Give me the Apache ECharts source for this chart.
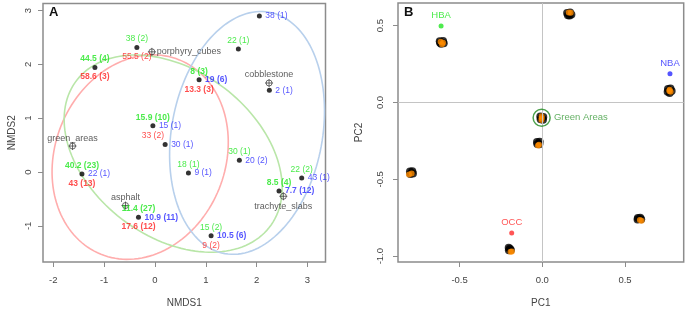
<!DOCTYPE html>
<html>
<head>
<meta charset="utf-8">
<script src="https://cdn.jsdelivr.net/npm/echarts@6.0.0/dist/echarts.min.js"></script>
<style>
  html, body { margin: 0; padding: 0; background: #fff; }
  #main { width: 685px; height: 313px; }
</style>
</head>
<body>
<div id="main"></div>
<script>
// ---- panel A : NMDS ----
// sampling points (black dots) and the three numbers printed round each one
const nmds1 = [-0.356, -1.181, -0.041, 0.200, 2.053, 1.640, 0.868, 2.250, -1.436, -0.324, 1.660, 0.658, 2.886, 2.440, 1.104];
const nmds2 = [2.312, 1.939, 0.859, 0.511, 2.897, 2.286, 1.714, 1.518, -0.038, -0.843, 0.219, -0.019, -0.111, -0.354, -1.184];
const greenLabels = ['38 (2)', '44.5 (4)', '15.9 (10)', '', '', '22 (1)', '8 (3)', '', '40.2 (23)', '11.4 (27)', '30 (1)', '18 (1)', '22 (2)', '8.5 (4)', '15 (2)'];
const blueLabels = ['', '', '15 (1)', '30 (1)', '38 (1)', '', '19 (6)', '2 (1)', '22 (1)', '10.9 (11)', '20 (2)', '9 (1)', '43 (1)', '7.7 (12)', '10.5 (6)'];
const redLabels = ['55.5 (2)', '58.6 (3)', '33 (2)', '', '', '', '13.3 (3)', '', '43 (13)', '17.6 (12)', '', '', '', '', '9 (2)'];

// surface centroids (crossed circles)
const surfaces = ['porphyry_cubes', 'green_areas', 'cobblestone', 'asphalt', 'trachyte_slabs'];
const surfaceX = [-0.061, -1.621, 2.244, -0.580, 2.525];
const surfaceY = [2.232, 0.482, 1.653, -0.623, -0.451];

// ellipses: centre and two conjugate half axes, in NMDS units (red, green, blue)
const ellipseCentre = [[-0.291, 0.277], [0.358, 0.341], [1.811, 0.726]];
const ellipseAxisA = [[1.729, 0.146], [1.888, -1.374], [1.513, 0.146]];
const ellipseAxisB = [[-0.118, -1.894], [-1.016, -1.211], [-0.177, -2.251]];

const nmdsXTicks = [-2, -1, 0, 1, 2, 3];
const nmdsYTicks = [-1, 0, 1, 2, 3];

// ---- panel B : PCA ----
const pcBlack = [
  [-0.620, 0.398], [-0.600, 0.400], [-0.612, 0.382], [-0.596, 0.385], [-0.618, 0.388],
  [0.150, 0.582], [0.168, 0.585], [0.176, 0.572], [0.155, 0.568], [0.165, 0.565],
  [0.760, 0.088], [0.775, 0.090], [0.782, 0.075], [0.758, 0.070], [0.770, 0.062],
  [-0.012, -0.092], [0.006, -0.094], [-0.010, -0.110], [0.004, -0.112], [-0.004, -0.100],
  [-0.032, -0.258], [-0.016, -0.256], [-0.030, -0.270], [-0.018, -0.272],
  [-0.800, -0.450], [-0.786, -0.448], [-0.782, -0.462], [-0.798, -0.466],
  [-0.203, -0.945], [-0.196, -0.952], [-0.202, -0.962], [-0.190, -0.960],
  [0.578, -0.752], [0.592, -0.750], [0.598, -0.760], [0.576, -0.762]
];
const pcOrange = [
  [-0.615, 0.395], [-0.600, 0.388], [-0.606, 0.378],
  [0.160, 0.586], [0.172, 0.584],
  [0.768, 0.075], [0.776, 0.070], [0.770, 0.082],
  [-0.004, -0.090], [-0.004, -0.102], [-0.005, -0.114],
  [-0.026, -0.280], [-0.020, -0.276],
  [-0.806, -0.468], [-0.790, -0.462],
  [-0.184, -0.970], [-0.192, -0.972],
  [0.600, -0.770], [0.590, -0.764]
];
const refNames = ['HBA', 'NBA', 'OCC'];
const refPC1 = [-0.612, 0.772, -0.185];
const refPC2 = [0.498, 0.187, -0.850];
const greenAreasPC = [-0.004, -0.100];

const pcXTicks = [-0.5, 0, 0.5];
const pcYTicks = [-1, -0.5, 0, 0.5];

// ---- styles ----
const FONT = '"Liberation Sans", Arial, Helvetica, sans-serif';
const BOX = '#8c8c8c';
const ellipseColors = ['#ffadad', '#b9e6a8', '#b8d0ec'];
const refColors = ['#22e622', '#2a2aff', '#ff2a2a'];
const surfaceLabelPos = [
  { align: 'left', offset: [5, 0] },
  { align: 'center', offset: [0, -8] },
  { align: 'center', offset: [0, -8.5] },
  { align: 'center', offset: [0, -8.5] },
  { align: 'center', offset: [0, 10.5] }
];
const crossCircle = 'path://M4,0L4,8M0,4L8,4M7,4A3,3,0,1,1,1,4A3,3,0,1,1,7,4Z';

function isBold(txt) {
  const m = txt.match(/\((\d+)\)/);
  return m && +m[1] >= 3;
}

function labelItems(texts) {
  const out = [];
  texts.forEach(function (t, i) {
    if (!t) return;
    out.push({ value: [nmds1[i], nmds2[i]], name: t, label: { fontWeight: isBold(t) ? 'bold' : 'normal' } });
  });
  return out;
}

function labelSeries(texts, color, align, offset) {
  return {
    type: 'scatter', xAxisIndex: 0, yAxisIndex: 0, silent: true, z: 5,
    symbolSize: 1, itemStyle: { color: 'rgba(0,0,0,0)' },
    data: labelItems(texts),
    label: {
      show: true, position: 'inside', align: align, verticalAlign: 'middle', offset: offset,
      formatter: '{b}', color: color, fontSize: 8.5, fontFamily: FONT
    }
  };
}

function valueAxis(grid, min, max, ticks, fmt, extra) {
  return Object.assign({
    gridIndex: grid, type: 'value', min: min, max: max,
    axisLine: { show: false, onZero: false },
    splitLine: { show: false },
    axisTick: { show: true, inside: false, length: 5, customValues: ticks, lineStyle: { color: BOX, width: 1 } },
    nameLocation: 'middle',
    nameTextStyle: { fontSize: 10, color: '#444', fontFamily: FONT }
  }, extra);
}

const chart = echarts.init(document.getElementById('main'));

const option = {
  animation: false,
  backgroundColor: '#fff',
  grid: [
    { left: 43, top: 3.5, width: 282.5, height: 262.5, show: true, borderColor: BOX, borderWidth: 1.5 },
    { left: 398, top: 3, width: 285.7, height: 263.7, show: true, borderColor: BOX, borderWidth: 1.5 }
  ],
  xAxis: [
    valueAxis(0, -2.202, 3.354, nmdsXTicks, null, { name: 'NMDS1', nameGap: 36, axisLabel: { customValues: nmdsXTicks, margin: 13, fontSize: 9.5, color: '#444', fontFamily: FONT } }),
    valueAxis(1, -0.8724, 0.855, pcXTicks, null, { name: 'PC1', nameGap: 36, axisLabel: { customValues: pcXTicks, formatter: v => v.toFixed(1), margin: 13, fontSize: 9.5, color: '#444', fontFamily: FONT } })
  ],
  yAxis: [
    valueAxis(0, -1.672, 3.13, nmdsYTicks, null, { name: 'NMDS2', nameGap: 26, nameRotate: 90, axisLabel: { customValues: nmdsYTicks, rotate: 90, margin: 10, fontSize: 9.5, color: '#444', fontFamily: FONT } }),
    valueAxis(1, -1.038, 0.647, pcYTicks, null, { name: 'PC2', nameGap: 34, nameRotate: 90, axisLabel: { customValues: pcYTicks, formatter: v => v.toFixed(1), rotate: 90, margin: 13, fontSize: 9.5, color: '#444', fontFamily: FONT } })
  ],
  graphic: [
    { type: 'text', left: 49, top: 6, style: { text: 'A', font: 'bold 13px ' + FONT, fill: '#111' } },
    { type: 'text', left: 404, top: 6, style: { text: 'B', font: 'bold 13px ' + FONT, fill: '#111' } }
  ],
  series: [
    // ellipses
    {
      type: 'custom', xAxisIndex: 0, yAxisIndex: 0, silent: true, z: 1,
      data: ellipseCentre.map((c, i) => [c[0], c[1], ellipseAxisA[i][0], ellipseAxisA[i][1], ellipseAxisB[i][0], ellipseAxisB[i][1], i]),
      encode: { x: 0, y: 1 },
      renderItem: function (params, api) {
        const cx = api.value(0), cy = api.value(1);
        const ax = api.value(2), ay = api.value(3), bx = api.value(4), by = api.value(5);
        const pts = [];
        for (let k = 0; k < 144; k++) {
          const t = k / 144 * Math.PI * 2;
          pts.push(api.coord([cx + ax * Math.cos(t) + bx * Math.sin(t), cy + ay * Math.cos(t) + by * Math.sin(t)]));
        }
        return { type: 'polygon', shape: { points: pts }, style: { fill: 'none', stroke: ellipseColors[api.value(6)], lineWidth: 1.6 } };
      }
    },
    // surface centroids
    {
      type: 'scatter', xAxisIndex: 0, yAxisIndex: 0, silent: true, z: 3,
      symbol: crossCircle, symbolSize: 8,
      itemStyle: { color: 'rgba(0,0,0,0)', borderColor: '#333', borderWidth: 0.9 },
      data: surfaces.map((s, i) => ({
        value: [surfaceX[i], surfaceY[i]], name: s,
        label: { align: surfaceLabelPos[i].align, offset: surfaceLabelPos[i].offset }
      })),
      label: { show: true, position: 'inside', verticalAlign: 'middle', formatter: '{b}', color: '#333', fontSize: 9, fontFamily: FONT }
    },
    // sampling points
    {
      type: 'scatter', xAxisIndex: 0, yAxisIndex: 0, silent: true, z: 4,
      symbolSize: 5, itemStyle: { color: '#000' },
      data: nmds1.map((x, i) => [x, nmds2[i]])
    },
    labelSeries(greenLabels, '#1ee61e', 'center', [0, -8.5]),
    labelSeries(blueLabels, '#2a2aff', 'left', [6, 0]),
    labelSeries(redLabels, '#ff2020', 'center', [0, 9.5]),

    // panel B zero lines
    {
      type: 'scatter', xAxisIndex: 1, yAxisIndex: 1, silent: true, z: 1, data: [],
      markLine: {
        silent: true, symbol: ['none', 'none'], label: { show: false },
        lineStyle: { color: '#c4c4c4', width: 1, type: 'solid' },
        data: [{ xAxis: 0 }, { yAxis: 0 }]
      }
    },
    {
      type: 'scatter', xAxisIndex: 1, yAxisIndex: 1, silent: true, z: 2,
      symbolSize: 8, itemStyle: { color: '#000' }, data: pcBlack
    },
    {
      type: 'scatter', xAxisIndex: 1, yAxisIndex: 1, silent: true, z: 3,
      symbolSize: 6, itemStyle: { color: '#ff8c00' }, data: pcOrange
    },
    {
      type: 'scatter', xAxisIndex: 1, yAxisIndex: 1, silent: true, z: 4,
      symbolSize: 5,
      data: refNames.map((n, i) => ({
        value: [refPC1[i], refPC2[i]], name: n,
        itemStyle: { color: refColors[i] }, label: { color: refColors[i] }
      })),
      label: { show: true, position: 'top', distance: 3, formatter: '{b}', fontSize: 9.5, fontFamily: FONT }
    },
    {
      type: 'scatter', xAxisIndex: 1, yAxisIndex: 1, silent: true, z: 5,
      symbol: 'circle', symbolSize: 17,
      itemStyle: { color: 'rgba(0,0,0,0)', borderColor: '#1f8a1f', borderWidth: 1.5 },
      data: [{ value: greenAreasPC, name: 'Green Areas' }],
      label: { show: true, position: 'right', distance: 3, formatter: '{b}', color: '#3c9c3c', fontSize: 9.5, fontFamily: FONT }
    }
  ]
};

chart.setOption(option);
</script>
</body>
</html>
